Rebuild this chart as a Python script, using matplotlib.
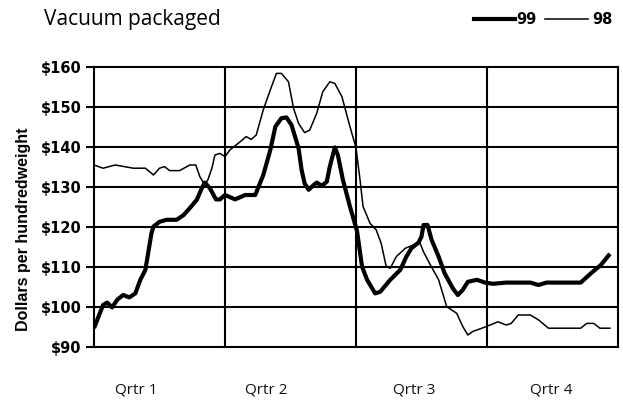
import numpy as np
import matplotlib
matplotlib.use("Agg")
import matplotlib.pyplot as plt

# weeks into the year (x) and price in $/cwt
weeks_99 = [0, 0.9, 1.3, 1.8, 2.3, 2.9, 3.5, 4.1, 4.6, 5.1, 5.7, 5.9, 6.5, 7.2, 8.2,
            8.9, 9.5, 10.2, 10.7, 11.0, 11.5, 12.1, 12.5, 13.0, 14.0, 15.0, 16.0,
            16.8, 17.5, 18.0, 18.6, 19.1, 19.6, 20.3, 20.6, 20.9, 21.3, 21.8, 22.1,
            22.6, 23.1, 23.4, 23.9, 24.2, 24.7, 25.4, 26.1, 26.6, 27.1, 27.9, 28.4,
            29.4, 30.4, 31.0, 31.5, 32.2, 32.5, 32.7, 33.1, 33.5, 34.2, 34.8, 35.6,
            36.1, 36.6, 37.1, 38.0, 38.8, 39.6, 40.9, 43.3, 44.1, 44.9, 48.3, 49.3,
            50.3, 51.2]
price_99 = [94.7, 100.5, 101.1, 99.9, 101.8, 103.0, 102.4, 103.4, 106.8, 109.3, 118.4,
            120.1, 121.3, 121.8, 121.8, 123.0, 124.7, 126.8, 129.7, 131.1, 129.7, 126.9,
            126.9, 128.0, 126.9, 128.0, 128.0, 133.0, 139.3, 145.1, 147.2, 147.4, 145.5,
            139.7, 134.3, 130.9, 129.3, 130.5, 131.1, 130.3, 131.3, 135.1, 139.9, 138.0,
            131.8, 125.1, 119.0, 110.1, 106.8, 103.4, 103.8, 106.8, 109.3, 112.6, 114.7,
            116.1, 117.6, 120.5, 120.5, 116.8, 112.6, 108.4, 104.7, 103.0, 104.3, 106.3,
            106.8, 106.1, 105.8, 106.1, 106.1, 105.5, 106.1, 106.1, 108.4, 110.5, 113.3]

weeks_98 = [0, 0.9, 2.1, 3.9, 5.1, 5.9, 6.5, 7.0, 7.5, 8.5, 9.5, 10.1, 10.5, 11.0, 11.3,
            11.7, 12.0, 12.5, 13.0, 13.5, 14.5, 15.1, 15.6, 16.1, 16.8, 17.5, 18.1,
            18.6, 19.3, 19.8, 20.3, 20.9, 21.4, 22.1, 22.7, 23.4, 23.9, 24.6, 25.4,
            26.0, 26.4, 26.7, 27.4, 28.0, 28.5, 29.0, 29.4, 30.0, 30.9, 31.7, 32.3,
            32.7, 33.3, 34.2, 35.0, 36.0, 36.6, 37.1, 37.6, 38.5, 39.3, 40.1, 40.9,
            41.4, 42.1, 43.3, 44.1, 45.1, 48.3, 48.9, 49.6, 50.2, 51.2]
price_98 = [135.5, 134.7, 135.5, 134.7, 134.7, 133.0, 134.7, 135.1, 134.1, 134.1, 135.5,
            135.5, 132.6, 130.5, 131.8, 134.7, 138.0, 138.4, 137.6, 139.3, 141.3, 142.6,
            141.9, 143.0, 149.3, 154.3, 158.4, 158.4, 156.3, 149.7, 145.9, 143.6, 144.2,
            148.4, 153.8, 156.3, 155.9, 152.6, 145.1, 139.8, 131.8, 125.1, 120.9, 119.3,
            115.9, 110.1, 109.7, 112.6, 114.7, 115.5, 116.3, 113.8, 110.9, 106.8, 100.1,
            98.4, 95.1, 93.0, 93.9, 94.7, 95.5, 96.3, 95.5, 95.9, 98.0, 98.0, 96.8, 94.7,
            94.7, 95.9, 95.9, 94.7, 94.7]

y_ticks = [90, 100, 110, 120, 130, 140, 150, 160]
y_labels = ["$" + str(v) for v in y_ticks]
quarter_lines = [13, 26, 39]
quarter_names = ["Qrtr 1", "Qrtr 2", "Qrtr 3", "Qrtr 4"]
quarter_pos = [4.2, 17.1, 31.8, 45.4]

fig = plt.figure(figsize=(6.23, 4.0), dpi=100)
ax = fig.add_axes([94 / 623, 1 - 347 / 400, 524 / 623, 280 / 400])

for v in y_ticks[1:-1]:
    ax.axhline(v, color="black", lw=1.5, zorder=1)
for q in quarter_lines:
    ax.axvline(q, color="black", lw=1.5, zorder=1)

ax.plot(weeks_98, price_98, color="black", lw=1.1, zorder=3)
ax.plot(weeks_99, price_99, color="black", lw=3.0, zorder=4,
        solid_joinstyle="round", solid_capstyle="butt")

ax.set_xlim(0, 52)
ax.set_ylim(90, 160)
ax.set_xticks([])
ax.set_yticks(y_ticks)
ax.set_yticklabels(y_labels, fontfamily="DejaVu Sans", fontweight="bold", fontsize=10.5)
ax.tick_params(axis="y", length=6, width=1.5, pad=3, color="black")
for s in ax.spines.values():
    s.set_linewidth(1.5)

for name, pos in zip(quarter_names, quarter_pos):
    ax.text(pos, 79.3, name, ha="center", va="center", fontsize=11,
            fontfamily="Open Sans", color="#111111")

fig.text(24 / 623, 1 - 229 / 400, "Dollars per hundredweight", rotation=90,
         ha="center", va="center", fontsize=11.5, fontfamily="Liberation Sans",
         fontweight="bold")

fig.text(44 / 623, 1 - 20 / 400, "Vacuum packaged", ha="left", va="center",
         fontsize=15, fontfamily="Open Sans")

# legend drawn by hand at top right
ly = 1 - 19 / 400
fig.add_artist(plt.Line2D([474 / 623, 515 / 623], [ly, ly],
                          color="black", lw=3.0, transform=fig.transFigure))
fig.text(516 / 623, ly, "99", ha="left", va="center", fontsize=10.5,
         fontfamily="DejaVu Sans", fontweight="bold")
fig.add_artist(plt.Line2D([545 / 623, 588 / 623], [ly, ly],
                          color="black", lw=1.1, transform=fig.transFigure))
fig.text(592 / 623, ly, "98", ha="left", va="center", fontsize=10.5,
         fontfamily="DejaVu Sans", fontweight="bold")

fig.savefig("out.png", dpi=100)
